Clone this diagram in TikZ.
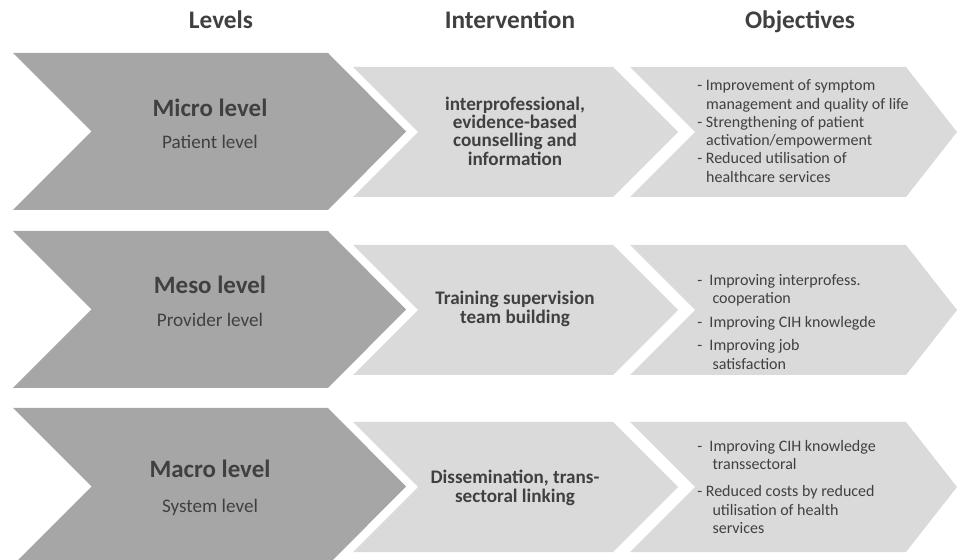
\documentclass[tikz,border=0pt]{standalone}
\usepackage{fontspec}
\setmainfont{Carlito}
\definecolor{levelgray}{HTML}{A6A6A6}
\definecolor{stepgray}{HTML}{DADADA}
\definecolor{inkgray}{HTML}{404040}
\newcommand{\chevronshape}[6]{\fill[#6] (#1,#2) -- ({#1+#3},#2) -- ({#1+#3+#5},{#2+#4/2})
  -- ({#1+#3},{#2+#4}) -- (#1,{#2+#4}) -- ({#1+#4/2},{#2+#4/2}) -- cycle;}

\begin{document}
\begin{tikzpicture}[x=0.02cm,y=-0.02cm,
    head/.style={font=\fontsize{14.4}{16}\selectfont\bfseries, text=inkgray, anchor=base},
    lvl/.style={font=\fontsize{14.2}{16}\selectfont\bfseries, text=inkgray, anchor=base},
    sublvl/.style={font=\fontsize{10.9}{12}\selectfont, text=inkgray, anchor=base},
    inter/.style={font=\fontsize{10.9}{10.4}\selectfont\bfseries, text=inkgray, align=center},
    obj/.style={font=\fontsize{9.1}{10.4}\selectfont, text=inkgray, align=left, anchor=west, inner sep=0pt}]
        \useasboundingbox (0,0) rectangle (957,560);
        \foreach \t in {53,231,408}
                 {
                   \chevronshape{13}{\t}{315}{157}{78}{levelgray}
                   \chevronshape{353}{\t+14}{260}{130}{65}{stepgray}
                   \chevronshape{630}{\t+14}{276}{130}{51}{stepgray}
                 }

        \node (levels) at (221,29) [head] {Levels};
        \node (intervention) at (510,29) [head] {Intervention};
        \node (objectives) at (800,29) [head] {Objectives};

        \node (micro) at (210,117) [lvl] {Micro level};
        \node (patient) at (210,149) [sublvl] {Patient level};
        \node (meso) at (210,294) [lvl] {Meso level};
        \node (provider) at (210,327) [sublvl] {Provider level};
        \node (macro) at (210,478) [lvl] {Macro level};
        \node (system) at (210,512) [sublvl] {System level};

        \node (inter1) at (515,131) [inter] {interprofessional,\\ evidence-based\\ counselling and\\ information};
        \node (inter2) at (515,309) [inter] {Training supervision\\ team building};
        \node (inter3) at (515,488) [inter] {Dissemination, trans-\\ sectoral linking};

        \node (obj1) at (697,131) [obj] {- Improvement of symptom\\ \hspace*{0.55em}management and quality of life\\
          - Strengthening of patient\\ \hspace*{0.55em}activation/empowerment\\
          - Reduced utilisation of\\ \hspace*{0.55em}healthcare services};
        \node (obj2) at (697,322) [obj] {-\ \ Improving interprofess.\\ \hspace*{0.95em}cooperation\\[3pt]
          -\ \ Improving CIH knowlegde\\[3pt]
          -\ \ Improving job\\ \hspace*{0.95em}satisfaction};
        \node (obj3) at (697,487) [obj] {-\ \ Improving CIH knowledge\\ \hspace*{0.95em}transsectoral\\[5pt]
          - Reduced costs by reduced\\ \hspace*{0.95em}utilisation of health\\ \hspace*{0.95em}services};
\end{tikzpicture}
\end{document}
